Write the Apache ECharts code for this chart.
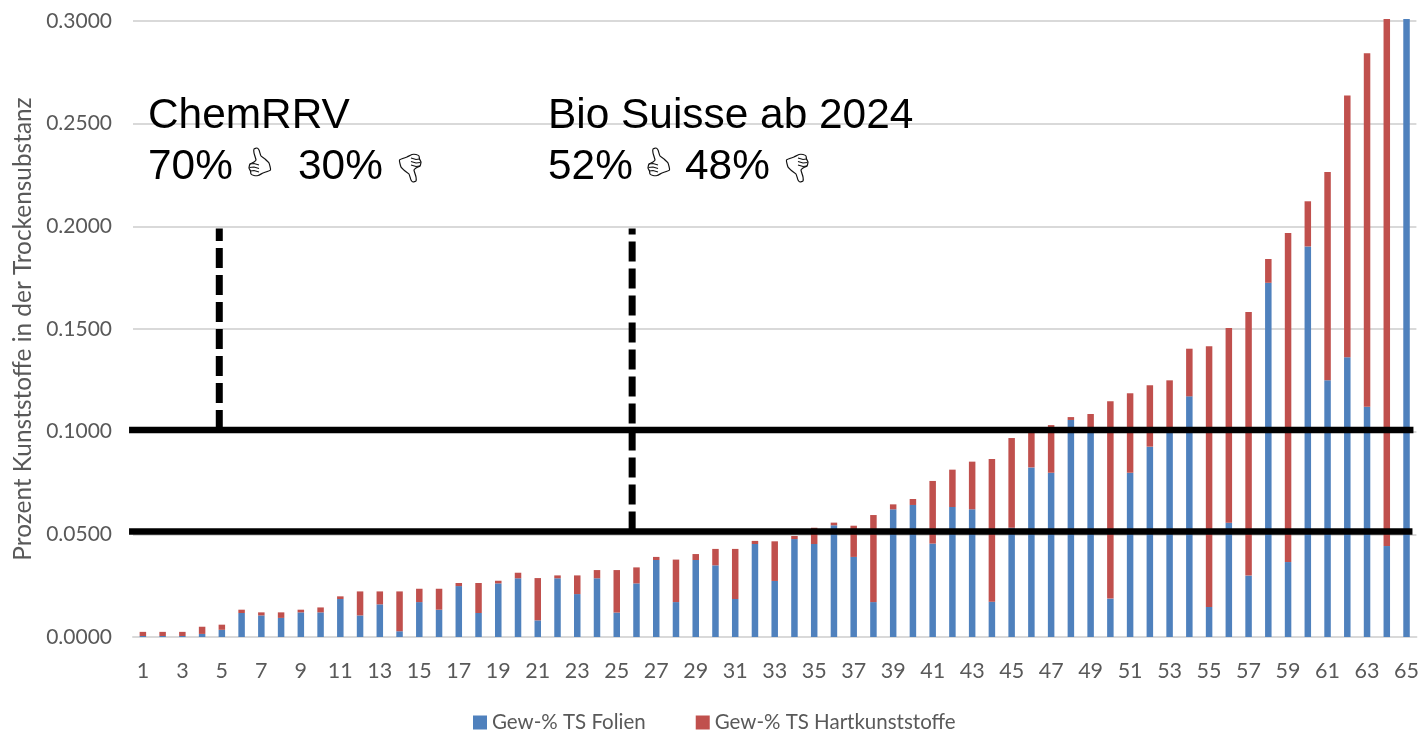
<!DOCTYPE html>
<html>
<head>
<meta charset="utf-8">
<title>Kunststoffe</title>
<style>
  html, body { margin: 0; padding: 0; background: #fff; }
  #chart { width: 1422px; height: 732px; }
</style>
<script src="https://cdn.jsdelivr.net/npm/echarts@6/dist/echarts.min.js"></script>
</head>
<body>
<div id="chart"></div>
<script>
const seriesNames = ['Gew-% TS Folien', 'Gew-% TS Hartkunststoffe'];
const yTicks = [0, 0.05, 0.1, 0.15, 0.2, 0.25, 0.3];

// Folien value and total height of each stack
const folien = [
  0.0005, 0.0005, 0.0005, 0.0015, 0.0035, 0.0117, 0.0105, 0.0093, 0.012, 0.012,
  0.0185, 0.0105, 0.0159, 0.0028, 0.017, 0.0133, 0.0248, 0.0117, 0.0261, 0.0286,
  0.0081, 0.0286, 0.0209, 0.0286, 0.0119, 0.0261, 0.0375, 0.017, 0.0375, 0.0349,
  0.0185, 0.0453, 0.0273, 0.0477, 0.0453, 0.0544, 0.039, 0.017, 0.0622, 0.0643,
  0.0455, 0.0633, 0.0622, 0.0172, 0.0532, 0.0826, 0.08, 0.1057, 0.1, 0.0187,
  0.08, 0.0927, 0.0995, 0.1172, 0.0146, 0.0557, 0.0299, 0.1725, 0.0365, 0.1902,
  0.125, 0.1363, 0.1121, 0.0443, 0.301
];
const totals = [
  0.0025, 0.0025, 0.0025, 0.005, 0.006, 0.0133, 0.012, 0.012, 0.0133, 0.0144,
  0.0198, 0.0222, 0.0222, 0.0222, 0.0235, 0.0235, 0.0263, 0.0263, 0.0274, 0.0313,
  0.0287, 0.03, 0.03, 0.0326, 0.0326, 0.0339, 0.039, 0.0377, 0.0404, 0.0429,
  0.0429, 0.0468, 0.0466, 0.0492, 0.0532, 0.0557, 0.0542, 0.0594, 0.0646, 0.0672,
  0.076, 0.0815, 0.0854, 0.0867, 0.0969, 0.1005, 0.1032, 0.1071, 0.1086, 0.1148,
  0.1187, 0.1226, 0.125, 0.1404, 0.1416, 0.1505, 0.1583, 0.1841, 0.1967, 0.2122,
  0.2265, 0.2637, 0.2843, 0.301, 0.301
];
const categories = folien.map((v, i) => String(i + 1));
const hart = totals.map((t, i) => +(t - folien[i]).toFixed(4));

// the black limit lines and dashed markers, in axis units
const limitHigh = [[0.3, 0.1008], [65.35, 0.1008]];
const limitLow = [[0.3, 0.0514], [65.3, 0.0514]];
const markChem = [[4.87, 0.1008], [4.87, 0.1989]];
const markBio = [[25.78, 0.0514], [25.78, 0.1989]];

const thumbOutline = [[5,1],[8,0],[10,2],[12,8],[16,11],[20,15],[21.5,22],[14,25],[9,27.5],[5,27.5],[2,26],[1.5,23],[0,20],[1,16],[5,14],[7,12],[5,5]];
const thumbFingers = [
  [[1,16],[5,15.5],[10,17]],
  [[0.5,19.5],[5,19],[10,20.5]],
  [[1.5,23],[5,22.5],[10,24]]
];

function thumb(x, y, rotation) {
  return {
    type: 'group', x: x, y: y, rotation: rotation, z: 100,
    children: [
      { type: 'polygon', z: 100, shape: { points: thumbOutline, smooth: 0.15 }, style: { fill: '#fff', stroke: '#111', lineWidth: 1.2 } }
    ].concat(thumbFingers.map(p => ({
      type: 'polyline', z: 101, shape: { points: p }, style: { fill: null, stroke: '#111', lineWidth: 1.2 }
    })))
  };
}

function label(text, x, y) {
  return {
    type: 'text', x: x, y: y, z: 100,
    style: { text: text, fill: '#000', font: '42.4px "Liberation Sans", Arial, sans-serif', verticalAlign: 'middle' }
  };
}

function blackLine(data, dash) {
  return {
    type: 'line', xAxisIndex: 1, data: data, symbol: 'none', clip: false, silent: true, z: 5,
    lineStyle: dash
      ? { color: '#000', width: 7, type: [20, 7], cap: 'butt' }
      : { color: '#000', width: 6.5, cap: 'butt' }
  };
}

const font = 'Lato, sans-serif';
const grey = '#595959';

let myChart = echarts.init(document.getElementById('chart'));

let option = {
  animation: false,
  backgroundColor: '#fff',
  color: ['#4F81BD', '#C0504D'],
  grid: { left: 133, right: 5, top: 21, bottom: 95 },
  legend: {
    data: seriesNames,
    icon: 'rect',
    left: 473,
    top: 712,
    padding: 0,
    itemWidth: 14,
    itemHeight: 14,
    itemGap: 50,
    textStyle: { color: grey, fontFamily: font, fontSize: 20.5 }
  },
  xAxis: [
    {
      type: 'category',
      data: categories,
      axisLine: { lineStyle: { color: '#d9d9d9', width: 2 } },
      axisTick: { show: false },
      axisLabel: { interval: 1, color: grey, fontFamily: font, fontSize: 21.5, margin: 23 }
    },
    { type: 'value', min: 0.5, max: 65.5, show: false, splitLine: { show: false } }
  ],
  yAxis: {
    type: 'value',
    min: yTicks[0],
    max: yTicks[yTicks.length - 1],
    interval: 0.05,
    name: 'Prozent Kunststoffe in der Trockensubstanz',
    nameLocation: 'middle',
    nameGap: 98,
    nameTextStyle: { color: grey, fontFamily: font, fontSize: 24.4 },
    axisLine: { show: false },
    axisTick: { show: false },
    axisLabel: { color: grey, fontFamily: font, fontSize: 21, margin: 21, formatter: v => v.toFixed(4) },
    splitLine: { lineStyle: { color: '#d9d9d9', width: 2 } }
  },
  series: [
    { name: seriesNames[0], type: 'bar', stack: 'Total', barWidth: 6.5, clip: false, data: folien },
    { name: seriesNames[1], type: 'bar', stack: 'Total', barWidth: 6.5, clip: false, data: hart },
    blackLine(limitHigh),
    blackLine(limitLow),
    blackLine(markChem, true),
    blackLine(markBio, true)
  ],
  graphic: [
    label('ChemRRV', 148, 116),
    label('70%', 148, 167),
    label('30%', 298, 167),
    label('Bio Suisse ab 2024', 548, 116),
    label('52%', 548, 167),
    label('48%', 685, 167),
    thumb(249, 148, 0),
    thumb(648, 148, 0),
    thumb(421, 182, Math.PI),
    thumb(808, 182, Math.PI)
  ]
};

option && myChart.setOption(option);
</script>
</body>
</html>
